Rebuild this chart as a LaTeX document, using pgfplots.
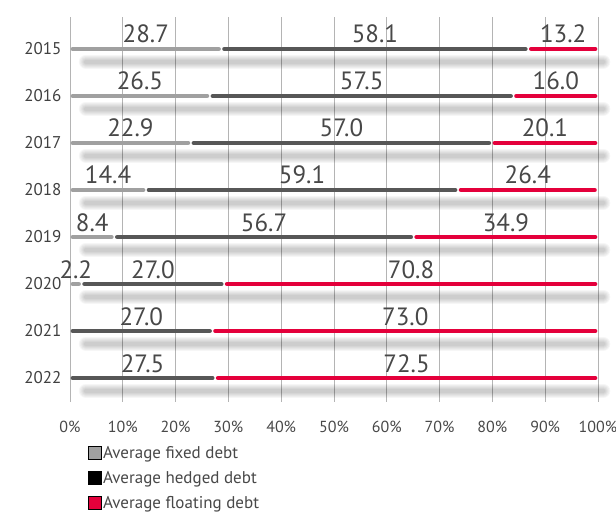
\documentclass[border=0pt]{standalone}
\usepackage{fontspec}
\setmainfont{PT Sans}
\usepackage{pgfplots}
\usepackage{pgfplotstable}
\pgfplotsset{compat=1.18}
\definecolor{fixedc}{HTML}{A0A0A0}
\definecolor{hedgedc}{HTML}{575757}
\definecolor{floatc}{HTML}{E4003B}
\definecolor{gridc}{HTML}{B4B4B4}
\definecolor{txtc}{HTML}{484848}

\pgfplotstableread{
idx year fixed hedged floating
0 2015 28.7 58.1 13.2
1 2016 26.5 57.5 16.0
2 2017 22.9 57.0 20.1
3 2018 14.4 59.1 26.4
4 2019 8.4 56.7 34.9
5 2020 2.2 27.0 70.8
6 2021 0.0 27.0 73.0
7 2022 0.0 27.5 72.5
}\debt

\begin{document}
\begin{tikzpicture}
\begin{axis}[
  at={(0,0)}, anchor=south west,
  scale only axis, width=528pt, height=385pt,
  xmin=0, xmax=100, ymin=-0.68, ymax=7.51, y dir=reverse,
  clip=false,
  /pgf/number format/assume math mode=true,
  axis line style={draw=none},
  major tick length=0pt,
  xtick={0,10,...,100},
  xticklabels={0\%,10\%,20\%,30\%,40\%,50\%,60\%,70\%,80\%,90\%,100\%},
  ytick={0,1,...,7},
  yticklabels={2015,2016,2017,2018,2019,2020,2021,2022},
  xmajorgrids, grid style={gridc, line width=0.8pt},
  xticklabel style={font=\fontsize{16}{18}\selectfont, text=txtc, yshift=-16pt},
  yticklabel style={font=\fontsize{17}{19}\selectfont, text=black!75, xshift=-5pt},
  legend style={at={(axis description cs:0.034,-0.109)}, anchor=north west,
    draw=none, fill=none, font=\fontsize{17}{19}\selectfont, text=txtc,
    row sep=7.5pt, cells={anchor=west}, inner sep=0pt,
    nodes={inner xsep=1.5pt}},
]
% shadows
\pgfplotsset{shd/.style={forget plot, quiver={u=98, v=0}, black, opacity=0.035, line width=#1, line cap=round}}
\addplot[shd=14pt] table[x expr=3, y expr=\thisrow{idx}+0.27]{\debt};
\addplot[shd=12pt] table[x expr=3, y expr=\thisrow{idx}+0.27]{\debt};
\addplot[shd=10pt] table[x expr=3, y expr=\thisrow{idx}+0.27]{\debt};
\addplot[shd=8pt] table[x expr=3, y expr=\thisrow{idx}+0.27]{\debt};
\addplot[shd=6pt] table[x expr=3, y expr=\thisrow{idx}+0.27]{\debt};
\addplot[shd=4pt] table[x expr=3, y expr=\thisrow{idx}+0.27]{\debt};
% bars
\addplot[forget plot, quiver={u=\thisrow{fixed}-1.1, v=0}, fixedc, line width=4.5pt, line cap=round, skip coords between index={6}{8}] table[x expr=0.55, y=idx]{\debt};
\addplot[forget plot, quiver={u=\thisrow{hedged}-1.1, v=0}, hedgedc, line width=4.5pt, line cap=round] table[x expr=\thisrow{fixed}+0.55, y=idx]{\debt};
\addplot[forget plot, quiver={u=\thisrow{floating}-1.1, v=0}, floatc, line width=4.5pt, line cap=round] table[x expr=\thisrow{fixed}+\thisrow{hedged}+0.55, y=idx]{\debt};
% labels
\pgfplotsset{lbl/.style={forget plot, draw=none, mark=none, point meta=explicit,
  nodes near coords={\pgfmathprintnumber[fixed,fixed zerofill,precision=1,assume math mode=true]{\pgfplotspointmeta}},
  every node near coord/.append style={anchor=base, yshift=6pt, font=\fontsize{25}{27}\selectfont, text=txtc}}}
\addplot[lbl, skip coords between index={6}{8}] table[x expr=\thisrow{fixed}/2, y=idx, meta=fixed]{\debt};
\addplot[lbl] table[x expr=\thisrow{fixed}+\thisrow{hedged}/2, y=idx, meta=hedged]{\debt};
\addplot[lbl] table[x expr=\thisrow{fixed}+\thisrow{hedged}+\thisrow{floating}/2, y=idx, meta=floating]{\debt};
% legend
\addlegendimage{legend image code/.code={\fill[fill=fixedc] (0pt,-6.5pt) rectangle (13pt,6.5pt);}}
\addlegendentry{Average fixed debt}
\addlegendimage{legend image code/.code={\fill[fill=black] (0pt,-6.5pt) rectangle (13pt,6.5pt);}}
\addlegendentry{Average hedged debt}
\addlegendimage{legend image code/.code={\fill[fill=floatc] (0pt,-6.5pt) rectangle (13pt,6.5pt);}}
\addlegendentry{Average floating debt}
\end{axis}
\pgfresetboundingbox
\useasboundingbox (-70pt,-112pt) rectangle (546pt,402pt);
\end{tikzpicture}
\end{document}
